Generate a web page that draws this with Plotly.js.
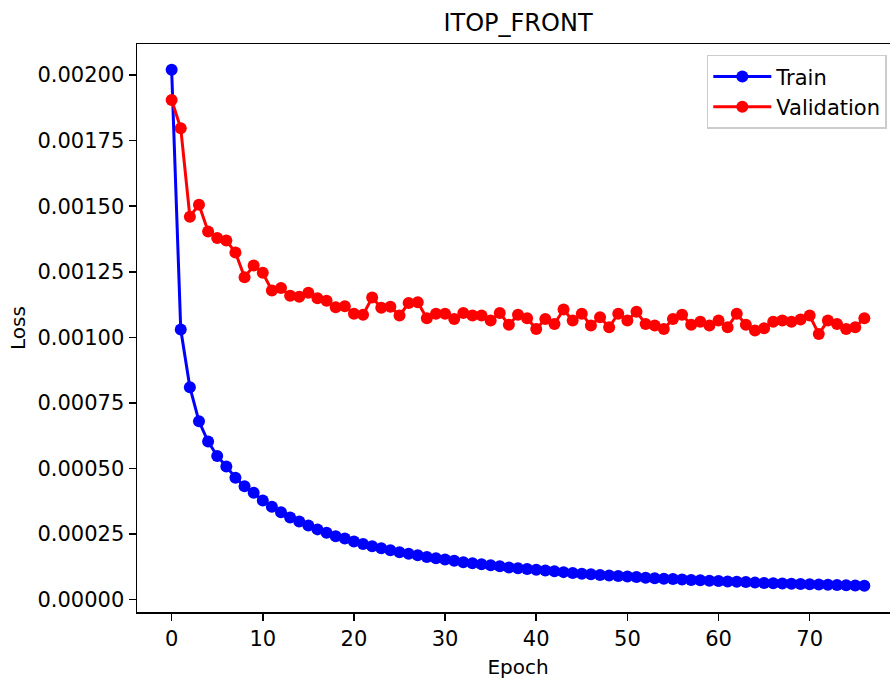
<!DOCTYPE html>
<html>
<head>
<meta charset="utf-8">
<script src="https://cdn.plot.ly/plotly-3.0.1.min.js"></script>
<style>
html, body { margin: 0; padding: 0; overflow: hidden; background: #fff; }
#chart { width: 900px; height: 681px; }
</style>
</head>
<body>
<div id="chart"></div>
<script>
const epochs = [];
for (let i = 0; i <= 76; i++) epochs.push(i);

const trainLoss = [
  0.00202, 0.00103, 0.00081, 0.00068, 0.000603, 0.000548, 0.000508, 0.000465, 0.000432, 0.000408,
  0.000378, 0.000354, 0.000333, 0.000313, 0.000298, 0.000283, 0.000268, 0.000255, 0.000242, 0.000233,
  0.000222, 0.000212, 0.000204, 0.000196, 0.000188, 0.000181, 0.000175, 0.000169, 0.000163, 0.000158,
  0.000153, 0.000148, 0.000143, 0.000139, 0.000135, 0.000131, 0.000127, 0.000123, 0.000120, 0.000117,
  0.000114, 0.000111, 0.000108, 0.000105, 0.000102, 0.000099, 0.000097, 0.000094, 0.000092, 0.000090,
  0.000088, 0.000086, 0.000084, 0.000082, 0.000080, 0.000079, 0.000077, 0.000075, 0.000074, 0.000072,
  0.000071, 0.000069, 0.000068, 0.000067, 0.000065, 0.000064, 0.000063, 0.000062, 0.000061, 0.000060,
  0.000059, 0.000058, 0.000057, 0.000056, 0.000055, 0.000054, 0.000053
];

const valLoss = [
  0.001905, 0.001797, 0.001460, 0.001506, 0.001404, 0.001379, 0.001369, 0.001324, 0.001229, 0.001274,
  0.001246, 0.001179, 0.001188, 0.001159, 0.001155, 0.001170, 0.001149, 0.001140, 0.001115, 0.001119,
  0.001090, 0.001086, 0.001152, 0.001113, 0.001117, 0.001083, 0.001131, 0.001134, 0.001073, 0.001090,
  0.001090, 0.001070, 0.001093, 0.001083, 0.001083, 0.001064, 0.001093, 0.001048, 0.001086, 0.001073,
  0.001032, 0.001070, 0.001051, 0.001106, 0.001064, 0.001090, 0.001045, 0.001077, 0.001039, 0.001090,
  0.001064, 0.001098, 0.001051, 0.001045, 0.001032, 0.001070, 0.001086, 0.001048, 0.001060, 0.001045,
  0.001064, 0.001039, 0.001090, 0.001048, 0.001026, 0.001035, 0.001060, 0.001064, 0.001060, 0.001068,
  0.001083, 0.001013, 0.001064, 0.001051, 0.001032, 0.001039, 0.001073
];

const FONT = "DejaVu Sans, sans-serif";

const traces = [
  {
    x: epochs, y: trainLoss, name: "Train", type: "scatter", mode: "lines+markers",
    line: { color: "#0000ff", width: 3 },
    marker: { color: "#0000ff", size: 12, symbol: "circle" }
  },
  {
    x: epochs, y: valLoss, name: "Validation", type: "scatter", mode: "lines+markers",
    line: { color: "#ff0000", width: 3 },
    marker: { color: "#ff0000", size: 12, symbol: "circle" }
  }
];

const layout = {
  width: 900, height: 681,
  margin: { l: 137, r: 1, t: 44, b: 69 },
  paper_bgcolor: "#ffffff", plot_bgcolor: "#ffffff",
  font: { family: FONT, size: 21, color: "#000000" },
  title: {
    text: "ITOP_FRONT", font: { family: FONT, size: 24, color: "#000" },
    x: 0.5, xref: "paper", y: 1, yref: "paper", yanchor: "bottom", pad: { b: 13 }
  },
  showlegend: true,
  legend: {
    x: 0.984, xanchor: "right", y: 0.981, yanchor: "top",
    bgcolor: "rgba(255,255,255,0.8)", bordercolor: "#cccccc", borderwidth: 1.5,
    font: { family: FONT, size: 21, color: "#000" },
    itemwidth: 58, tracegroupgap: 4
  },
  xaxis: {
    range: [-3.8, 79.8], dtick: 10, tick0: 0,
    showgrid: false, zeroline: false,
    showline: true, linecolor: "#000", linewidth: 1.5, mirror: true,
    ticks: "outside", ticklen: 7, tickwidth: 1.5, tickcolor: "#000",
    tickfont: { family: FONT, size: 21, color: "#000" },
    title: { text: "Epoch", font: { family: FONT, size: 20, color: "#000" }, standoff: 10 }
  },
  yaxis: {
    range: [-0.000047, 0.0021185], dtick: 0.00025, tick0: 0, tickformat: ".5f",
    showgrid: false, zeroline: false,
    showline: true, linecolor: "#000", linewidth: 1.5, mirror: true,
    ticks: "outside", ticklen: 7, tickwidth: 1.5, tickcolor: "#000",
    tickfont: { family: FONT, size: 21, color: "#000" },
    title: { text: "Loss", font: { family: FONT, size: 20, color: "#000" }, standoff: 6 }
  }
};

Plotly.newPlot("chart", traces, layout, { displayModeBar: false, staticPlot: true });
</script>
</body>
</html>
